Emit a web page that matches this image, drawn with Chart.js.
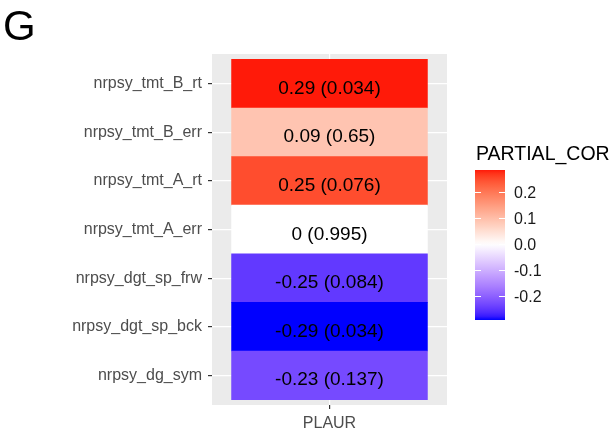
<!DOCTYPE html>
<html>
<head>
<meta charset="utf-8">
<script src="https://cdn.jsdelivr.net/npm/chart.js@4"></script>
<style>
  body { margin: 0; background: #ffffff; }
  canvas { display: block; }
</style>
</head>
<body>
<canvas id="myChart" width="609" height="431"></canvas>
<script>
// rows top to bottom
const rows = [
    'nrpsy_tmt_B_rt', 'nrpsy_tmt_B_err', 'nrpsy_tmt_A_rt', 'nrpsy_tmt_A_err',
    'nrpsy_dgt_sp_frw', 'nrpsy_dgt_sp_bck', 'nrpsy_dg_sym'
]
const cols = ['PLAUR']
const partialCor = [0.287, 0.09, 0.25, 0, -0.25, -0.294, -0.23]
const pValues = [0.034, 0.65, 0.076, 0.995, 0.084, 0.034, 0.137]
const legendTicks = [0.2, 0.1, 0.0, -0.1, -0.2]

// ggplot scale_fill_gradient2(low = 'blue', mid = 'white', high = 'red'), Lab interpolation
function rgb2lab(c) {
    let [r, g, b] = c.map(v => {
        v /= 255
        return v > 0.04045 ? Math.pow((v + 0.055) / 1.055, 2.4) : v / 12.92
    })
    let x = (r * 0.4124 + g * 0.3576 + b * 0.1805) / 0.95047
    let y = (r * 0.2126 + g * 0.7152 + b * 0.0722)
    let z = (r * 0.0193 + g * 0.1192 + b * 0.9505) / 1.08883
    const f = t => t > 0.008856 ? Math.cbrt(t) : 7.787 * t + 16 / 116
    x = f(x); y = f(y); z = f(z)
    return [116 * y - 16, 500 * (x - y), 200 * (y - z)]
}

function lab2rgb(lab) {
    let y = (lab[0] + 16) / 116
    let x = lab[1] / 500 + y
    let z = y - lab[2] / 200
    const fi = t => t * t * t > 0.008856 ? t * t * t : (t - 16 / 116) / 7.787
    x = fi(x) * 0.95047; y = fi(y); z = fi(z) * 1.08883
    const r = x * 3.2406 + y * -1.5372 + z * -0.4986
    const g = x * -0.9689 + y * 1.8758 + z * 0.0415
    const b = x * 0.0557 + y * -0.2040 + z * 1.0570
    return [r, g, b].map(v => {
        v = v > 0.0031308 ? 1.055 * Math.pow(v, 1 / 2.4) - 0.055 : 12.92 * v
        return Math.round(Math.min(1, Math.max(0, v)) * 255)
    })
}

const labLow = rgb2lab([0, 0, 255])
const labMid = rgb2lab([255, 255, 255])
const labHigh = rgb2lab([255, 0, 0])
const limMin = Math.min(...partialCor)
const limMax = Math.max(...partialCor)
const maxAbs = Math.max(Math.abs(limMin), Math.abs(limMax))

function fillColor(v) {
    const f = Math.min(1, Math.abs(v) / maxAbs)
    const end = v >= 0 ? labHigh : labLow
    const lab = labMid.map((m, i) => m + (end[i] - m) * f)
    const c = lab2rgb(lab)
    return `rgb(${c[0]}, ${c[1]}, ${c[2]})`
}

function fmt(v) {
    return String(Math.round(v * 100) / 100)
}

const tileLabels = partialCor.map((v, i) => `${fmt(v)} (${pValues[i]})`)

const panelBg = {
    id: 'panelBg',
    beforeDraw(chart) {
        const {ctx, chartArea: a} = chart
        ctx.save()
        ctx.fillStyle = '#ffffff'
        ctx.fillRect(0, 0, chart.width, chart.height)
        ctx.fillStyle = '#EBEBEB'
        ctx.fillRect(a.left, a.top, a.right - a.left, a.bottom - a.top)
        ctx.restore()
    }
}

const tileText = {
    id: 'tileText',
    afterDatasetsDraw(chart) {
        const ctx = chart.ctx
        const meta = chart.getDatasetMeta(0)
        ctx.save()
        ctx.font = '19px "Liberation Sans", Arial, sans-serif'
        ctx.fillStyle = '#000000'
        ctx.textAlign = 'center'
        ctx.textBaseline = 'alphabetic'
        meta.data.forEach((bar, i) => {
            const cx = (bar.x + bar.base) / 2
            ctx.fillText(tileLabels[i], cx, bar.y + 10)
        })
        ctx.restore()
    }
}

const extras = {
    id: 'extras',
    afterDraw(chart) {
        const ctx = chart.ctx
        ctx.save()
        // panel tag
        ctx.fillStyle = '#000000'
        ctx.font = '42px "Liberation Sans", Arial, sans-serif'
        ctx.textBaseline = 'alphabetic'
        ctx.textAlign = 'left'
        ctx.fillText('G', 3, 40)

        // colour bar legend
        const barX = 475, barW = 30, barTop = 170, barH = 150
        const toPx = v => barTop + (limMax - v) / (limMax - limMin) * barH
        ctx.font = '19.5px "Liberation Sans", Arial, sans-serif'
        ctx.fillText('PARTIAL_COR', 476, 160)

        const grad = ctx.createLinearGradient(0, barTop, 0, barTop + barH)
        for (let k = 0; k <= 40; k++) {
            const v = limMax - (limMax - limMin) * k / 40
            grad.addColorStop(k / 40, fillColor(v))
        }
        ctx.fillStyle = grad
        ctx.fillRect(barX, barTop, barW, barH)

        ctx.strokeStyle = '#ffffff'
        ctx.lineWidth = 1
        ctx.font = '16px "Liberation Sans", Arial, sans-serif'
        ctx.fillStyle = '#1a1a1a'
        ctx.textBaseline = 'middle'
        legendTicks.forEach(t => {
            const y = Math.round(toPx(t)) + 0.5
            ctx.beginPath()
            ctx.moveTo(barX, y); ctx.lineTo(barX + 6, y)
            ctx.moveTo(barX + barW - 6, y); ctx.lineTo(barX + barW, y)
            ctx.stroke()
            ctx.fillText(t.toFixed(1), 514, y + 1)
        })
        ctx.restore()
    }
}

const ctx = myChart.getContext('2d')
const chart = new Chart(ctx, {
    type: 'bar',
    data: {
        datasets: [{
            data: rows.map((r, i) => ({x: [-0.5, 0.5], y: i + 1})),
            backgroundColor: partialCor.map(fillColor),
            borderWidth: 0,
            barPercentage: 1,
            categoryPercentage: 1
        }]
    },
    options: {
        indexAxis: 'y',
        responsive: false,
        animation: false,
        layout: {
            padding: {top: 54, right: 162, left: 0, bottom: 0}
        },
        plugins: {
            legend: {display: false},
            tooltip: {enabled: false}
        },
        scales: {
            x: {
                type: 'linear',
                min: -0.6,
                max: 0.6,
                offset: false,
                afterBuildTicks: (scale) => {
                    scale.ticks = cols.map((c, i) => ({value: i}))
                },
                afterFit: (scale) => {
                    scale.height = 26
                },
                ticks: {
                    color: '#4D4D4D',
                    padding: 5,
                    maxRotation: 0,
                    font: {family: '"Liberation Sans", Arial, sans-serif', size: 16},
                    callback: (v, i) => cols[i]
                },
                grid: {
                    offset: false,
                    color: '#ffffff',
                    lineWidth: 1.2,
                    tickColor: '#333333',
                    tickLength: 4
                },
                border: {display: false}
            },
            y: {
                type: 'linear',
                reverse: true,
                min: 0.39,
                max: 7.61,
                offset: false,
                afterBuildTicks: (scale) => {
                    scale.ticks = rows.map((r, i) => ({value: i + 1}))
                },
                afterFit: (scale) => {
                    scale.width = 212
                },
                ticks: {
                    color: '#4D4D4D',
                    padding: 6,
                    font: {family: '"Liberation Sans", Arial, sans-serif', size: 16},
                    callback: (v) => rows[v - 1]
                },
                grid: {
                    offset: false,
                    color: '#ffffff',
                    lineWidth: 1.2,
                    tickColor: '#333333',
                    tickLength: 4
                },
                border: {display: false}
            }
        }
    },
    plugins: [panelBg, tileText, extras]
})
</script>
</body>
</html>
